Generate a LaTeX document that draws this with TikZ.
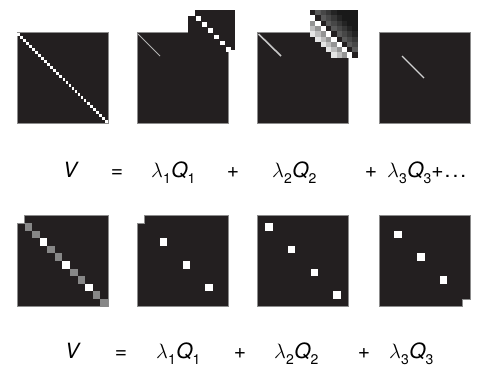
\documentclass[tikz,border=0pt]{standalone}
\usepackage{fontspec}
\newfontfamily\heros{TeX Gyre Heros}
\definecolor{panel}{RGB}{35,31,32}
\newcommand\lo[1]{\raisebox{-0.3em}{\fontsize{14}{14}\selectfont\heros\upshape #1}}
\begin{document}
\begin{tikzpicture}[x=1pt,y=-1pt]
\tikzset{
 eq/.style={inner sep=0pt, anchor=base west, font=\fontsize{21}{21}\selectfont\heros},
 op/.style={inner sep=0pt, anchor=base, font=\fontsize{21}{21}\selectfont\heros},
 mat/.style={fill=panel, draw=black!45, line width=0.7pt},
 gcell/.style={fill=black!47},
 wcell/.style={fill=white},
}
\fill[white] (0,0) rectangle (487,367);
\useasboundingbox (0,0) rectangle (487,367);

% ---------- top row panels ----------
\path[mat] (17,32.5) rectangle (108,123.5);
\path[mat] (137,32.5) rectangle (228,123.5);
\path[mat] (257.5,32.5) rectangle (348.5,123.5);
\path[mat] (379,32.5) rectangle (470,123.5);

% panel 1: full white diagonal
\foreach \i in {0,...,29}
  \fill[white] ({17.2+3.02*\i},{32.7+3.02*\i}) rectangle +(2.85,2.85);
% panel 2, 3, 4 partial diagonals
\draw[black!30, line width=1pt] (138,34) -- (160,56);
\draw[black!22, line width=1.6pt] (258.5,34) -- (281,56);
\draw[black!18, line width=1.2pt] (402,56) -- (424,78);

% inset of panel 2
\fill[panel] (195,10) rectangle (235,50);
\fill[panel] (188,16) rectangle (196,33);
\foreach \k in {0,...,5}
  \fill[white] ({195.8+6.1*\k},{16.2+6.1*\k}) rectangle +(4.8,4.8);

% inset of panel 3 (graded, checkered diagonal)
\foreach \r in {0,...,8}{
  \foreach \c in {0,...,8}{
    \pgfmathtruncatemacro\dd{\c-\r}
    \ifnum\dd=0
      \fill[panel] ({310+5.3*\c},{10+5.3*\r}) rectangle +(5.35,5.35);
    \else
      \ifnum\dd=-1
        \fill[white] ({310+5.3*\c},{10+5.3*\r}) rectangle +(5.35,5.35);
      \else
        \ifnum\dd>0
          \pgfmathtruncatemacro\shd{min(90,58+7*\dd)}
          \fill[black!\shd] ({310+5.3*\c},{10+5.3*\r}) rectangle +(5.35,5.35);
        \else
          \ifnum\dd>-5
            \pgfmathtruncatemacro\shd{max(10,58+16*(\dd+1))}
            \fill[black!\shd] ({310+5.3*\c},{10+5.3*\r}) rectangle +(5.35,5.35);
          \fi
        \fi
      \fi
    \fi
  }
}

% ---------- bottom row panels ----------
\path[mat] (24.6,215.5) -- (108,215.5) -- (108,306.5) -- (17,306.5) -- (17,223.1) -- (24.6,223.1) -- cycle;
\path[mat] (144.6,215.5) -- (228,215.5) -- (228,306.5) -- (137,306.5) -- (137,223.1) -- (144.6,223.1) -- cycle;
\path[mat] (257.5,215.5) rectangle (348.5,306.5);
\path[mat] (379,215.5) -- (470,215.5) -- (470,298.9) -- (462.4,298.9) -- (462.4,306.5) -- (379,306.5) -- cycle;

\foreach \k in {1,2,4,5,7,8,10,11}
  \fill[gcell] ({17+\k*7.583},{215.5+\k*7.583}) rectangle +(7.583,7.583);
\foreach \k in {3,6,9}
  \fill[wcell] ({17+\k*7.583},{215.5+\k*7.583}) rectangle +(7.583,7.583);
\foreach \k in {3,6,9}
  \fill[wcell] ({137+\k*7.583},{215.5+\k*7.583}) rectangle +(7.583,7.583);
\foreach \k in {1,4,7,10}
  \fill[wcell] ({257.5+\k*7.583},{215.5+\k*7.583}) rectangle +(7.583,7.583);
\foreach \k in {2,5,8}
  \fill[wcell] ({379+\k*7.583},{215.5+\k*7.583}) rectangle +(7.583,7.583);

% ---------- equations ----------
\node[eq] (v1) at (63,177) {\itshape V};
\node[op] (e1) at (117,177) {=};
\node[eq] (t11) at (151,177) {$\lambda$\lo{1}\kern0.5pt{\itshape Q}\lo{1}};
\node[op] (p11) at (233,177) {+};
\node[eq] (t12) at (272,177) {$\lambda$\lo{2}\kern0.5pt{\itshape Q}\lo{2}};
\node[op] (p12) at (371,177) {+};
\node[eq] (t13) at (387,177) {$\lambda$\lo{3}\kern0.5pt{\itshape Q}\lo{3}+\kern1pt.\kern2pt.\kern2pt.};

\node[eq] (v2) at (65,358) {\itshape V};
\node[op] (e2) at (121,358) {=};
\node[eq] (t21) at (156,358) {$\lambda$\lo{1}\kern0.5pt{\itshape Q}\lo{1}};
\node[op] (p21) at (240,358) {+};
\node[eq] (t22) at (274,358) {$\lambda$\lo{2}\kern0.5pt{\itshape Q}\lo{2}};
\node[op] (p22) at (364,358) {+};
\node[eq] (t23) at (389,358) {$\lambda$\lo{3}\kern0.5pt{\itshape Q}\lo{3}};
\end{tikzpicture}
\end{document}
